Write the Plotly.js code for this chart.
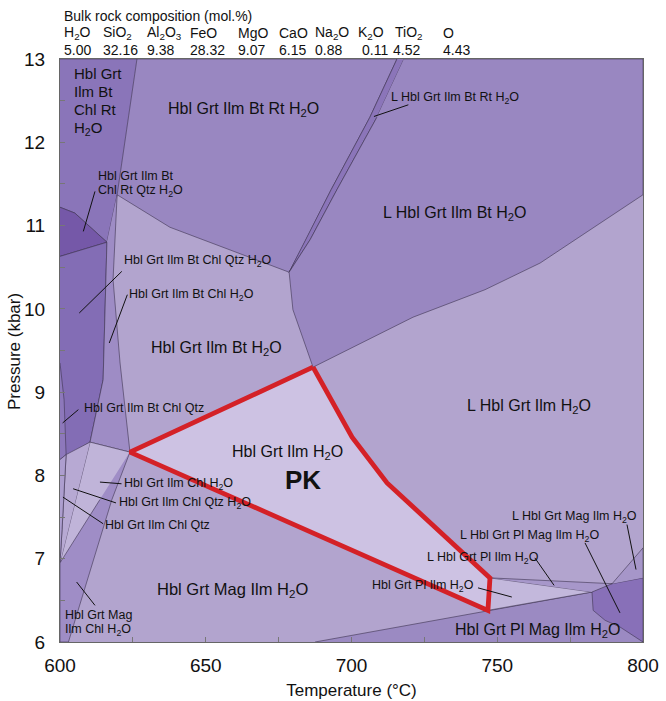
<!DOCTYPE html>
<html>
<head>
<meta charset="utf-8">
<script src="https://cdn.plot.ly/plotly-3.0.1.min.js"></script>
<style>
  html, body { margin: 0; padding: 0; background: #fff; }
  #chart { width: 666px; height: 701px; }
</style>
</head>
<body>
<div id="chart"></div>
<script>
// Bulk rock composition (mol.%)
const oxides = ["H<sub>2</sub>O", "SiO<sub>2</sub>", "Al<sub>2</sub>O<sub>3</sub>", "FeO", "MgO",
                "CaO", "Na<sub>2</sub>O", "K<sub>2</sub>O", "TiO<sub>2</sub>", "O"];
const bulkValues = [5.00, 32.16, 9.38, 28.32, 9.07, 6.15, 0.88, 0.11, 4.52, 4.43];

// Phase-field outlines, temperature (°C) / pressure (kbar)
const rtT = [626.4, 715.6, 706.3, 693.0, 684.4, 678.6, 637.7, 619.6];
const rtP = [13, 13, 12.30, 11.43, 10.83, 10.44, 10.98, 11.37];

const liqRtT = [715.6, 706.3, 693.0, 684.4, 678.6, 685.8, 695.0, 708.7, 718.0];
const liqRtP = [13, 12.30, 11.43, 10.83, 10.44, 10.83, 11.43, 12.30, 13];

const liqBtT = [718.0, 800, 800, 764.7, 745.8, 721.1, 686.8, 679.9, 678.6, 685.8, 695.0, 708.7];
const liqBtP = [13, 13, 11.37, 10.55, 10.23, 9.90, 9.30, 9.99, 10.44, 10.83, 11.43, 12.30];

const chlRtT = [600, 626.4, 619.6, 616.1, 605.1, 600];
const chlRtP = [13, 13, 11.37, 10.80, 11.15, 11.22];

const chlRtQtzT = [600, 605.1, 616.1, 600];
const chlRtQtzP = [11.22, 11.15, 10.80, 10.63];

const btChlQtzWT = [600, 616.1, 614.8, 610.3, 600];
const btChlQtzWP = [10.63, 10.80, 9.15, 8.40, 8.19];

const btChlQtzT = [600, 601.4, 602.1, 600];
const btChlQtzP = [9.35, 8.91, 8.25, 8.19];

const btChlWT = [619.6, 618.2, 620.6, 624.0, 610.3, 614.8, 616.1];
const btChlWP = [11.37, 10.35, 9.35, 8.28, 8.40, 9.15, 10.80];

const ilmChlWT = [624.0, 610.3, 600];
const ilmChlWP = [8.28, 8.40, 6.95];

const ilmChlQtzWT = [610.3, 602.1, 600.7, 600];
const ilmChlQtzWP = [8.40, 8.25, 7.35, 6.95];

const ilmChlQtzT = [600, 602.1, 600.7, 600];
const ilmChlQtzP = [8.19, 8.25, 7.35, 6.95];

const magChlT = [624.0, 617.8, 602.9, 600, 600, 613.7];
const magChlP = [8.28, 7.71, 6.0, 6.0, 6.95, 7.71];

const plMagT = [687.5, 746.8, 782.5, 789.4, 800, 800];
const plMagP = [6.0, 6.38, 6.60, 6.70, 6.77, 6.0];

const liqPlMagT = [782.5, 782.6, 782.9, 787.0, 792.1, 800, 800, 789.4];
const liqPlMagP = [6.60, 6.49, 6.38, 6.26, 6.18, 6.0, 6.77, 6.70];

const plIlmT = [747.5, 782.5, 746.8];
const plIlmP = [6.77, 6.60, 6.38];

const liqPlIlmT = [747.5, 789.4, 782.5];
const liqPlIlmP = [6.77, 6.70, 6.60];

const liqMagT = [789.4, 800, 800];
const liqMagP = [6.70, 7.13, 6.77];

// PK field (Hbl Grt Ilm H2O), outlined in red
const pkT = [686.8, 689.9, 700.2, 712.2, 721.1, 747.5, 746.8, 624.0, 686.8];
const pkP = [9.30, 9.11, 8.46, 7.91, 7.62, 6.77, 6.38, 8.28, 9.30];

// Leader lines from small labels to their fields (null separates segments)
const leaderT = [612.0, 608.0, null, 621.2, 606.6, null, 623.1, 616.9, null, 606.3, 600.9, null,
                 621.1, 613.7, null, 619.2, 604.5, null, 614.8, 601.0, null, 612.0, 605.7, null,
                 719.5, 707.7, null, 743.4, 755.0, null, 762.9, 769.5, null, 780.1, 792.1, null,
                 794.5, 797.6];
const leaderP = [11.41, 10.93, null, 10.45, 9.95, null, 10.17, 9.59, null, 8.79, 8.63, null,
                 7.90, 7.92, null, 7.67, 7.84, null, 7.42, 7.74, null, 6.44, 6.72, null,
                 12.45, 12.31, null, 6.65, 6.54, null, 7.01, 6.68, null, 7.19, 6.35, null,
                 7.41, 6.87];

const tempTicks = [600, 650, 700, 750, 800];
const presTicks = [6, 7, 8, 9, 10, 11, 12, 13];

const H2O = "H<sub>2</sub>O";
const FONT = "Arial, 'Liberation Sans', sans-serif";
const EDGE = "rgba(60,50,80,0.85)";

function field(xs, ys, color) {
  return {
    type: "scatter", mode: "lines", x: xs, y: ys,
    fill: "toself", fillcolor: color,
    line: { color: EDGE, width: 0.7 },
    hoverinfo: "skip", showlegend: false
  };
}

const traces = [
  field(rtT, rtP, "#9987c1"),
  field(liqRtT, liqRtP, "#8b75b9"),
  field(liqBtT, liqBtP, "#9987c1"),
  field(chlRtT, chlRtP, "#8a75b9"),
  field(chlRtQtzT, chlRtQtzP, "#7558a8"),
  field(btChlQtzWT, btChlQtzWP, "#836db5"),
  field(btChlQtzT, btChlQtzP, "#8d78bb"),
  field(btChlWT, btChlWP, "#9e8cc5"),
  field(ilmChlWT, ilmChlWP, "#c0b4d9"),
  field(ilmChlQtzWT, ilmChlQtzWP, "#b7a9d3"),
  field(ilmChlQtzT, ilmChlQtzP, "#ad9ecf"),
  field(magChlT, magChlP, "#9f8dc6"),
  field(plMagT, plMagP, "#9b8ac2"),
  field(liqPlMagT, liqPlMagP, "#8870b8"),
  field(plIlmT, plIlmP, "#c3b8dc"),
  field(liqPlIlmT, liqPlIlmP, "#a797ca"),
  field(liqMagT, liqMagP, "#a696c9"),
  {
    type: "scatter", mode: "lines", x: pkT, y: pkP,
    fill: "toself", fillcolor: "#cdc2e3",
    line: { color: "#d42127", width: 4.8 },
    hoverinfo: "skip", showlegend: false
  },
  {
    type: "scatter", mode: "lines", x: leaderT, y: leaderP,
    line: { color: "#111", width: 1 }, connectgaps: false,
    hoverinfo: "skip", showlegend: false
  }
];

// Field labels: [text, T, P, size, xanchor]
const fieldLabels = [
  ["Hbl Grt", 604.1, 12.83, 15, "left"],
  ["Ilm Bt", 604.1, 12.61, 15, "left"],
  ["Chl Rt", 604.1, 12.39, 15, "left"],
  [H2O, 604.1, 12.17, 15, "left"],
  ["Hbl Grt Ilm Bt Rt " + H2O, 663.0, 12.39, 16, "center"],
  ["L Hbl Grt Ilm Bt Rt " + H2O, 712.9, 12.53, 12.5, "left"],
  ["L Hbl Grt Ilm Bt " + H2O, 735.3, 11.15, 16, "center"],
  ["Hbl Grt Ilm Bt", 612.2, 11.59, 12.5, "left"],
  ["Chl Rt Qtz " + H2O, 612.2, 11.41, 12.5, "left"],
  ["Hbl Grt Ilm Bt Chl Qtz " + H2O, 621.1, 10.58, 12.5, "left"],
  ["Hbl Grt Ilm Bt Chl " + H2O, 623.1, 10.17, 12.5, "left"],
  ["Hbl Grt Ilm Bt " + H2O, 653.7, 9.53, 16, "center"],
  ["Hbl Grt Ilm Bt Chl Qtz", 607.4, 8.81, 12.5, "left"],
  ["L Hbl Grt Ilm " + H2O, 760.9, 8.83, 16, "center"],
  ["Hbl Grt Ilm " + H2O, 678.0, 8.27, 16, "center"],
  ["Hbl Grt Ilm Chl " + H2O, 621.1, 7.90, 12.5, "left"],
  ["Hbl Grt Ilm Chl Qtz " + H2O, 619.4, 7.67, 12.5, "left"],
  ["Hbl Grt Ilm Chl Qtz", 614.9, 7.41, 12.5, "left"],
  ["Hbl Grt Mag Ilm " + H2O, 659.3, 6.62, 16.5, "center"],
  ["Hbl Grt Mag", 600.9, 6.325, 12.5, "left"],
  ["Ilm Chl " + H2O, 600.9, 6.145, 12.5, "left"],
  ["L Hbl Grt Mag Ilm " + H2O, 754.4, 7.505, 12.5, "left"],
  ["L Hbl Grt Pl Mag Ilm " + H2O, 736.6, 7.27, 12.5, "left"],
  ["L Hbl Grt Pl Ilm " + H2O, 725.2, 7.01, 12.5, "left"],
  ["Hbl Grt Pl Ilm " + H2O, 742.7, 6.67, 12.5, "right"],
  ["Hbl Grt Pl Mag Ilm " + H2O, 763.8, 6.14, 16, "center"]
];

const annotations = fieldLabels.map(([text, x, y, size, xa]) => ({
  text, x, y, xref: "x", yref: "y", xanchor: xa, yanchor: "middle",
  showarrow: false, align: "left", font: { family: FONT, size, color: "#111" }
}));

annotations.push({
  text: "<b>PK</b>", x: 683.4, y: 7.94, xref: "x", yref: "y",
  showarrow: false, font: { family: FONT, size: 26, color: "#111" }
});

// Pixel positions outside the frame, converted to paper space
const PLOT_L = 60, PLOT_W = 583, PLOT_B = 642, PLOT_H = 583;
const px = v => (v - PLOT_L) / PLOT_W;
const py = v => (PLOT_B - v) / PLOT_H;

// Pressure axis title, placed beside the tick labels
annotations.push({
  text: "Pressure (kbar)", x: px(14), y: py(352), xref: "paper", yref: "paper",
  xanchor: "center", yanchor: "middle", textangle: -90, showarrow: false,
  font: { family: FONT, size: 17, color: "#111" }
});

// Composition header above the frame
const oxideCols = [62, 101, 145, 188, 236, 277, 313, 356, 393, 441];
const valueCols = [62, 101, 145, 188, 236, 277, 313, 360, 391, 441];
const headFont = { family: FONT, size: 14, color: "#111" };

annotations.push({
  text: "Bulk rock composition (mol.%)", x: px(62), y: py(16), xref: "paper", yref: "paper",
  xanchor: "left", yanchor: "middle", showarrow: false, font: headFont
});
oxides.forEach((o, i) => annotations.push({
  text: o, x: px(oxideCols[i]), y: py(33), xref: "paper", yref: "paper",
  xanchor: "left", yanchor: "middle", showarrow: false, font: headFont
}));
bulkValues.forEach((v, i) => annotations.push({
  text: v.toFixed(2), x: px(valueCols[i]), y: py(50.5), xref: "paper", yref: "paper",
  xanchor: "left", yanchor: "middle", showarrow: false, font: headFont
}));

const axisCommon = {
  showgrid: false, zeroline: false, showline: true, mirror: true,
  linecolor: "#666", linewidth: 1,
  ticks: "inside", ticklen: 5, tickcolor: "#777", tickwidth: 1,
  tickfont: { family: FONT, size: 19, color: "#111" }
};

const layout = {
  width: 666, height: 701,
  margin: { l: 60, r: 23, t: 59, b: 59 },
  paper_bgcolor: "#ffffff",
  plot_bgcolor: "#b2a4ce",
  showlegend: false,
  xaxis: Object.assign({}, axisCommon, {
    range: [600, 800], tickvals: tempTicks,
    minor: { dtick: 25, ticks: "inside", ticklen: 5, tickcolor: "#777" },
    ticklabelstandoff: 6,
    title: { text: "Temperature (°C)", font: { family: FONT, size: 17, color: "#111" }, standoff: 9 }
  }),
  yaxis: Object.assign({}, axisCommon, {
    range: [6, 13], tickvals: presTicks,
    minor: { dtick: 0.5, ticks: "inside", ticklen: 5, tickcolor: "#777" },
    ticklabelstandoff: 10
  }),
  annotations
};

Plotly.newPlot("chart", traces, layout, { staticPlot: true, displayModeBar: false });
</script>
</body>
</html>
